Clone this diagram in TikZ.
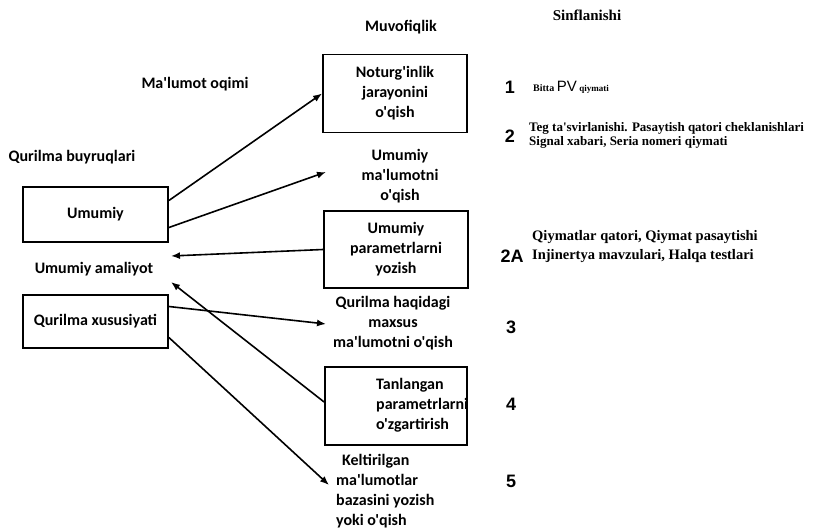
\documentclass[tikz,border=0pt]{standalone}
\usepackage{fontspec}
\newfontfamily\carlito{Carlito}
\newfontfamily\arialf{Liberation Sans}
\newfontfamily\timesf{Liberation Serif}
\usepackage{tikz}
\usetikzlibrary{arrows.meta, positioning, calc}
\tikzset{
  lbl/.style={font=\carlito\bfseries\fontsize{16}{20}\selectfont, align=center, inner sep=0pt},
  box/.style={draw, line width=1.8pt, minimum width=144pt, lbl},
  num/.style={font=\arialf\bfseries\fontsize{18}{20}\selectfont, inner sep=0pt},
  note/.style={font=\timesf\bfseries, align=left, inner sep=0pt, anchor=west},
  flow/.style={-{Latex[length=9pt,width=7pt]}, line width=1.6pt}
}
\begin{document}
\begin{tikzpicture}[x=1pt, y=-1pt]
  \useasboundingbox (0,0) rectangle (814,529);

  % headings
  \node[lbl] (muvofiqlik) at (401,27) {Muvofiqlik};
  \node[font=\timesf\bfseries\fontsize{15}{16}\selectfont, inner sep=0pt] (sinflanishi) at (587,15) {Sinflanishi};
  \node[lbl] (oqimi) at (195,84) {Ma'lumot oqimi};
  \node[lbl] (buyruqlari) at (72,157) {Qurilma buyruqlari};

  % left side
  \node[box, minimum width=145pt, minimum height=55pt] (umumiy) at (95.5,214.5) {Umumiy};
  \node[lbl] (amaliyot) at (94,269) {Umumiy amaliyot};
  \node[box, minimum width=145pt, minimum height=53pt] (xususiyat) at (95.5,321.5) {Qurilma xususiyati};

  % middle column
  \node[box, minimum height=78pt] (noturg) at (395,93.5) {Noturg'inlik\\jarayonini\\o'qish};
  \node[lbl] (umumiyoqish) at (400,176) {Umumiy\\ma'lumotni\\o'qish};
  \node[box, minimum height=77pt] (param) at (396,249.5) {Umumiy\\parametrlarni\\yozish};
  \node[lbl] (maxsus) at (393,323) {Qurilma haqidagi\\maxsus\\ma'lumotni o'qish};
  \node[draw, line width=1.8pt, minimum width=142pt, minimum height=78pt] (tanlangan) at (396,406) {};
  \node[lbl, align=left, anchor=west] (tanlangantxt) at (376,405) {Tanlangan\\parametrlarni\\o'zgartirish};
  \node[lbl, align=left, anchor=north west] (keltirilgan) at (336,454) {\hspace{6pt}Keltirilgan\\ma'lumotlar\\bazasini yozish\\yoki o'qish};

  % right column
  \node[num] (n1) at (510,87) {1};
  \node[note] (t1) at (533,87) {{\fontsize{10}{12}\selectfont Bitta} {\arialf\mdseries\fontsize{15}{16}\selectfont PV} {\fontsize{9}{12}\selectfont qiymati}};
  \node[num] (n2) at (510,136) {2};
  \node[note, font=\timesf\bfseries\fontsize{13}{14}\selectfont] (t2) at (529,135) {Teg ta'svirlanishi. Pasaytish qatori cheklanishlari\\Signal xabari, Seria nomeri qiymati};
  \node[num] (n2a) at (512,256) {2A};
  \node[note, font=\timesf\bfseries\fontsize{14.5}{19}\selectfont] (t2a) at (532,247) {Qiymatlar qatori, Qiymat pasaytishi\\Injinertya mavzulari, Halqa testlari};
  \node[num] (n3) at (511,327) {3};
  \node[num] (n4) at (511,404) {4};
  \node[num] (n5) at (511,481) {5};

  % free ends
  \coordinate (oqishend) at (326,172);
  \coordinate (amalend1) at (171,256);
  \coordinate (amalend2) at (171,282);
  \coordinate (maxsusend) at (326,324);
  \coordinate (keltend) at (329,485);

  % connectors
  \draw[flow] ([yshift=14pt]umumiy.east) -- (noturg.west);
  \draw[flow] ([yshift=-13pt]umumiy.east) -- (oqishend);
  \draw[flow] (param.west) -- (amalend1);
  \draw[flow] ([yshift=4pt]tanlangan.west) -- (amalend2);
  \draw[flow] ([yshift=15pt]xususiyat.east) -- (maxsusend);
  \draw[flow] ([yshift=-16pt]xususiyat.east) -- (keltend);
\end{tikzpicture}
\end{document}
